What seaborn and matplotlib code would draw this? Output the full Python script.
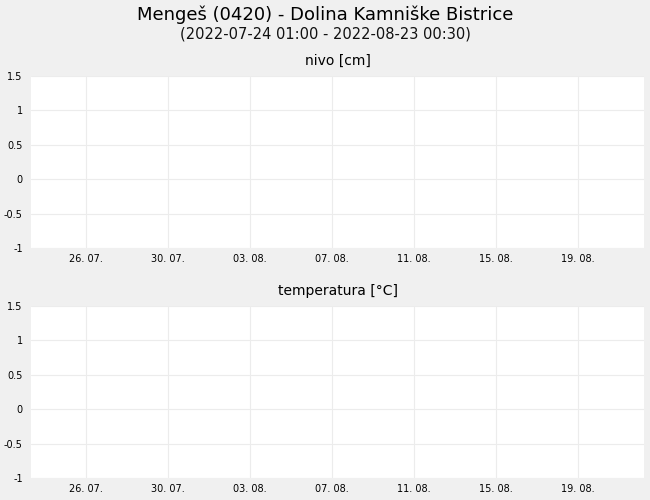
import pandas as pd
import numpy as np
import matplotlib
matplotlib.use("Agg")
import matplotlib.pyplot as plt
import matplotlib.dates as mdates
import seaborn as sns

title = "Mengeš (0420) - Dolina Kamniške Bistrice"
subtitle = "(2022-07-24 01:00 - 2022-08-23 00:30)"
panel_titles = ["nivo [cm]", "temperatura [°C]"]
tick_dates = pd.to_datetime(["2022-07-26", "2022-07-30", "2022-08-03", "2022-08-07",
                             "2022-08-11", "2022-08-15", "2022-08-19"])
y_ticks = [-1, -0.5, 0, 0.5, 1, 1.5]
y_labels = ["-1", "-0.5", "0", "0.5", "1", "1.5"]
x_start = pd.Timestamp("2022-07-23 07:40")
x_end = pd.Timestamp("2022-08-22 05:20")

# no measurements in the period
empty = pd.DataFrame({"time": pd.to_datetime([]), "value": pd.Series([], dtype=float)})

sns.set_theme(style="white")
plt.rcParams["font.family"] = ["DejaVu Sans"]
plt.rcParams["text.color"] = "black"

fig = plt.figure(figsize=(6.5, 5), dpi=100, facecolor="#f0f0f0")
fig.text(0.5, 0.971, title, ha="center", va="center", fontsize=13, color="black")
fig.text(0.5, 0.932, subtitle, ha="center", va="center", fontsize=10.5, color="#111111")

positions = [[31 / 650, 1 - 248 / 500, 613 / 650, 172 / 500],
             [31 / 650, 1 - 478 / 500, 613 / 650, 172 / 500]]

for pos, name in zip(positions, panel_titles):
    ax = fig.add_axes(pos)
    ax.set_facecolor("white")
    sns.lineplot(data=empty, x="time", y="value", ax=ax)
    ax.set_xlim(x_start, x_end)
    ax.set_ylim(-1, 1.5)
    ax.set_xticks(tick_dates)
    ax.xaxis.set_major_formatter(mdates.DateFormatter("%d. %m."))
    ax.set_yticks(y_ticks)
    ax.set_yticklabels(y_labels)
    ax.grid(True, color="#ececec", linewidth=0.8)
    ax.tick_params(axis="both", length=0, labelsize=7, colors="black")
    ax.tick_params(axis="y", pad=6)
    ax.tick_params(axis="x", pad=4)
    for s in ax.spines.values():
        s.set_visible(False)
    ax.set_xlabel("")
    ax.set_ylabel("")
    ax.set_title(name, fontsize=10, pad=8, color="black")

fig.savefig("out.png", dpi=100, facecolor=fig.get_facecolor())
